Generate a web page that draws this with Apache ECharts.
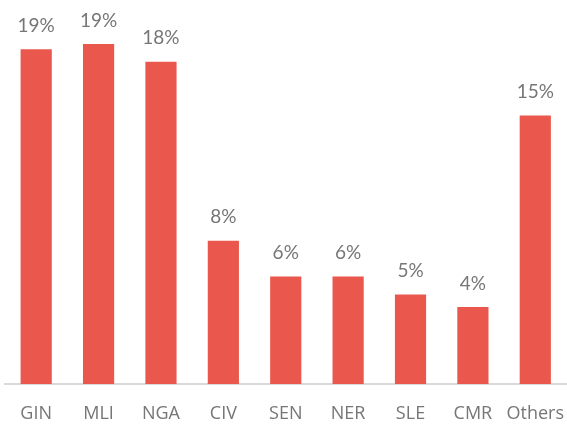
<!DOCTYPE html>
<html>
<head>
<meta charset="utf-8">
<title>Share by country</title>
<script src="https://cdn.jsdelivr.net/npm/echarts@6/dist/echarts.min.js"></script>
<style>
  html, body { margin: 0; padding: 0; background: #fff; }
  #main { width: 567px; height: 424px; }
</style>
</head>
<body>
<div id="main"></div>
<script>
// categories and shares (%)
var countries = ['GIN', 'MLI', 'NGA', 'CIV', 'SEN', 'NER', 'SLE', 'CMR', 'Others'];
var shares = [18.7, 19.0, 18.0, 8.0, 6.0, 6.0, 5.0, 4.3, 15.0];

var chart = echarts.init(document.getElementById('main'));

var option = {
    animation: false,
    grid: {
        left: 5,
        right: 0,
        top: 26,
        bottom: 40
    },
    xAxis: {
        type: 'category',
        data: countries,
        axisLine: { lineStyle: { color: '#d9d9d9', width: 2 } },
        axisTick: { show: false },
        axisLabel: {
            interval: 0,
            color: '#767676',
            fontFamily: 'Open Sans',
            fontSize: 18,
            margin: 21
        }
    },
    yAxis: {
        type: 'value',
        min: 0,
        max: 20,
        show: false,
        splitLine: { show: false }
    },
    series: [{
        type: 'bar',
        data: shares,
        barWidth: '50%',
        itemStyle: { color: '#ea574c' },
        label: {
            show: true,
            position: 'top',
            distance: 14,
            color: '#767676',
            fontFamily: 'Lato',
            fontSize: 19,
            formatter: function (p) { return Math.round(p.value) + '%'; }
        }
    }]
};

chart.setOption(option);
</script>
</body>
</html>
